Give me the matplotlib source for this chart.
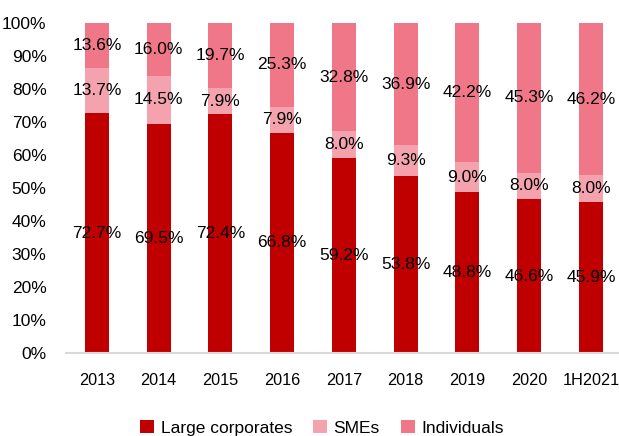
import numpy as np
import matplotlib
matplotlib.use('Agg')
import matplotlib.pyplot as plt
from matplotlib import font_manager

names = set(f.name for f in font_manager.fontManager.ttflist)
if 'Liberation Sans Narrow' in names:
    plt.rcParams['font.family'] = ['Liberation Sans Narrow']
else:
    plt.rcParams['font.family'] = ['Liberation Sans']

years = ['2013', '2014', '2015', '2016', '2017', '2018', '2019', '2020', '1H2021']
large = [72.7, 69.5, 72.4, 66.8, 59.2, 53.8, 48.8, 46.6, 45.9]
smes = [13.7, 14.5, 7.9, 7.9, 8.0, 9.3, 9.0, 8.0, 8.0]
indiv = [13.6, 16.0, 19.7, 25.3, 32.8, 36.9, 42.2, 45.3, 46.2]

c_large = '#c00000'
c_sme = '#f4a3ae'
c_ind = '#f07788'

fig = plt.figure(figsize=(6.19, 4.36), dpi=100)
ax = fig.add_axes([0.1066, 0.19, 0.898, 0.757])

x = np.arange(len(years))
large = np.array(large)
smes = np.array(smes)
indiv = np.array(indiv)
tot = large + smes + indiv
# bars are normalised to 100%
l = large / tot * 100
s = smes / tot * 100
i = indiv / tot * 100

w = 0.39
ax.bar(x, l, w, color=c_large, label='Large corporates')
ax.bar(x, s, w, bottom=l, color=c_sme, label='SMEs')
ax.bar(x, i, w, bottom=l + s, color=c_ind, label='Individuals')

fs = 12.5
for k in range(len(years)):
    ax.text(x[k], l[k] / 2, f'{large[k]:.1f}%', ha='center', va='center', fontsize=fs)
    ax.text(x[k], l[k] + s[k] / 2, f'{smes[k]:.1f}%', ha='center', va='center', fontsize=fs)
    ax.text(x[k], l[k] + s[k] + i[k] / 2, f'{indiv[k]:.1f}%', ha='center', va='center', fontsize=fs)

ax.set_xlim(-0.5, len(years) - 0.5)
ax.set_ylim(0, 100)
ax.set_yticks(np.arange(0, 101, 10))
ax.set_yticklabels([f'{v}%' for v in range(0, 101, 10)])
ax.set_xticks(x)
ax.set_xticklabels(years)
ax.tick_params(axis='both', length=0, labelsize=12.5)
ax.tick_params(axis='x', labelsize=11.7)
ax.tick_params(axis='y', pad=14)
ax.tick_params(axis='x', pad=14)

for sp in ['top', 'right', 'left']:
    ax.spines[sp].set_visible(False)
ax.spines['bottom'].set_color('#d9d9d9')
ax.spines['bottom'].set_linewidth(1.5)

fig.legend(loc='lower center', bbox_to_anchor=(0.52, -0.035), ncol=3, frameon=False,
           fontsize=12.5, handlelength=0.8, handleheight=0.8, handletextpad=0.4,
           columnspacing=1.2)

fig.savefig('out.png', dpi=100)
